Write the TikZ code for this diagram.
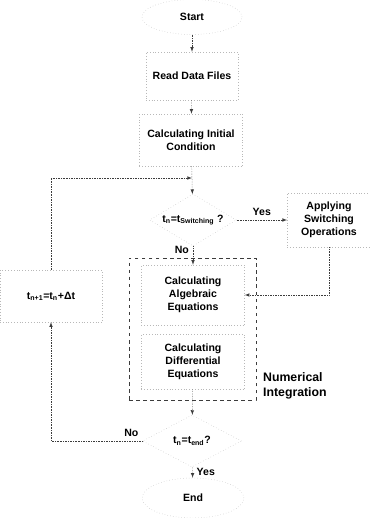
\documentclass[tikz,border=0pt]{standalone}
\usepackage{fontspec}
\setmainfont{Liberation Sans}
\usepackage{tikz}
\tikzset{auto}
\usetikzlibrary{arrows,shapes}
\usepackage{xcolor}
\tikzset{
  flowfont/.style={font=\bfseries\fontsize{9}{11}\selectfont},
  procbox/.style={rectangle, draw=shapecol, dotted, align=center, flowfont},
  decbox/.style={diamond, draw=shapecol, dotted, align=center, inner sep=0pt, flowfont},
  termbox/.style={ellipse, draw=shapecol, dotted, flowfont},
  intframe/.style={rectangle, draw=linecol, dashed},
  flow/.style={draw=linecol, densely dotted, -latex},
  flowlabel/.style={flowfont, fill=none, text=black, solid}
}
\newcommand{\procstep}[3]{node[procbox, #3](#1) {#2}}
\newcommand{\decstep}[3]{node[decbox, #3](#1) {#2}}
\newcommand{\termstep}[3]{node[termbox, #3](#1) {#2}}
\definecolor{shapecol}{HTML}{B8B8B8}
\definecolor{linecol}{HTML}{3C3C3C}

\begin{document}
\begin{tikzpicture}[x=0.03cm, y=-0.03cm]
\useasboundingbox (0,0) rectangle (370,518);
\draw (192,17) \termstep{start}{Start}{minimum width=3cm, minimum height=1.05cm} ;
\draw (192,76) \procstep{read}{Read Data Files}{minimum width=2.76cm, minimum height=1.44cm} ;
\draw (191,140) \procstep{init}{Calculating Initial\\Condition}{minimum width=3.1cm, minimum height=1.56cm} ;
\coordinate (join) at (192,178) ;
\draw (193,220) \decstep{sw}{t\textsubscript{n}=t\textsubscript{Switching} ?}{minimum width=2.6cm, minimum height=1.56cm, aspect=1.7} ;
\draw (329,220) \procstep{apply}{Applying\\Switching\\Operations}{minimum width=2.5cm, minimum height=1.62cm} ;
  \draw (192.5,329) node[intframe, minimum width=3.81cm, minimum height=4.26cm](numint) {} ;
  \draw (193,295) \procstep{alg}{Calculating\\Algebraic\\Equations}{minimum width=3.09cm, minimum height=1.8cm} ;
  \draw (193,362) \procstep{dif}{Calculating\\Differential\\Equations}{minimum width=3.09cm, minimum height=1.65cm} ;
  \draw (259,385.5) node[anchor=west, align=left, font=\bfseries\fontsize{10.5}{12.8}\selectfont](numlabel) {Numerical\\Integration} ;
\draw (192,441) \decstep{en}{t\textsubscript{n}=t\textsubscript{end}?}{minimum width=2.97cm, minimum height=1.56cm, aspect=1.9} ;
\draw (193,498) \termstep{stop}{End}{minimum width=3.05cm, minimum height=1.2cm} ;
\draw (51,296) \procstep{tstep}{t\textsubscript{n+1}=t\textsubscript{n}+Δt}{minimum width=3.06cm, minimum height=1.56cm} ;
% main line
\draw[flow] (start) -- (read) ;
\draw[flow] (read) -- (init) ;
\draw[flow] (init) -- (join) -- (sw) ;
\draw[flow] (sw) -- node[flowlabel, above]{Yes} (apply) ;
\draw[flow] (sw) -- node[flowlabel, left, pos=0.2]{No} (alg) ;
\draw[flow] (apply) |- (alg) ;
\draw[flow] (dif) -- (en) ;
\draw[flow] (en) -- node[flowlabel, right]{Yes} (stop) ;
% time step loop
\draw[flow] (en) -| node[flowlabel, above, pos=0.06]{No} (tstep) ;
\draw[flow] (tstep) |- (join) ;
\end{tikzpicture}
\end{document}
